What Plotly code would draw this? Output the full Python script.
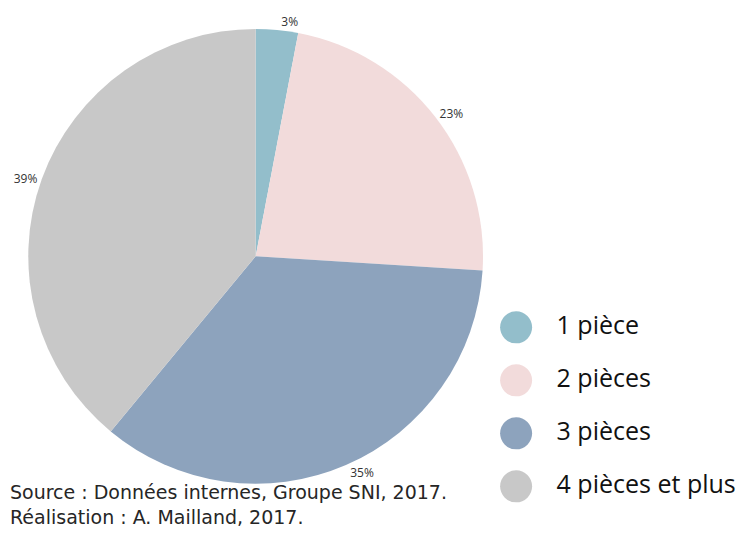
import plotly.graph_objects as go

categories = ["1 pièce", "2 pièces", "3 pièces", "4 pièces et plus"]
shares = [3, 23, 35, 39]
colors = ["#93BECB", "#F2DBDB", "#8DA3BD", "#C8C8C8"]
legend_rows = [4, 3, 2, 1]

source_lines = [
    "Source : Données internes, Groupe SNI, 2017.",
    "Réalisation : A. Mailland, 2017.",
]

fig = go.Figure()

fig.add_trace(go.Pie(
    labels=categories,
    values=shares,
    sort=False,
    direction="clockwise",
    rotation=0,
    marker=dict(colors=colors, line=dict(width=0)),
    texttemplate="%{value}%",
    textposition="outside",
    textfont=dict(family="Open Sans", size=12, color="#333333"),
    domain=dict(x=[0.0, 0.628], y=[0.127, 0.985]),
    showlegend=False,
    hoverinfo="label+percent",
))

# legend drawn as big circle markers
fig.add_trace(go.Scatter(
    x=[0] * len(categories),
    y=legend_rows,
    mode="markers+text",
    text=["   " + c for c in categories],
    textposition="middle right",
    textfont=dict(family="Open Sans", size=25, color="#111111"),
    marker=dict(size=32, color=colors),
    showlegend=False,
    hoverinfo="skip",
    cliponaxis=False,
))

fig.update_xaxes(domain=[0.6385, 1.0], range=[-1, 9.4], visible=False)
fig.update_yaxes(domain=[0.0, 0.5], range=[-0.22, 4.78], visible=False)

fig.add_annotation(
    text="<br>".join(source_lines),
    xref="paper", yref="paper", x=-0.027, y=0.136,
    xanchor="left", yanchor="top", align="left",
    showarrow=False,
    font=dict(family="DejaVu Sans", size=19, color="#262626"),
)

fig.update_layout(
    width=745, height=543,
    margin=dict(l=0, r=0, t=0, b=0),
    paper_bgcolor="white",
    plot_bgcolor="white",
)

fig.write_html("out.html")
